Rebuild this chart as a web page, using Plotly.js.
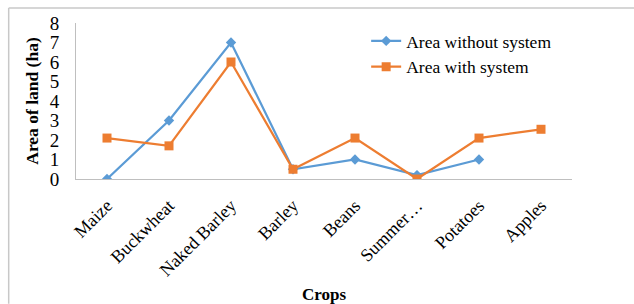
<!DOCTYPE html>
<html>
<head>
<meta charset="utf-8">
<script src="https://cdn.plot.ly/plotly-3.0.1.min.js"></script>
<style>
html,body{margin:0;padding:0;background:#fff;}
#chart{width:634px;height:304px;}
</style>
</head>
<body>
<div id="chart"></div>
<script>
const crops = ["Maize", "Buckwheat", "Naked Barley", "Barley", "Beans", "Summer…", "Potatoes", "Apples"];
const areaWithout = [0, 3, 7, 0.5, 1, 0.2, 1, null];
const areaWith = [2.1, 1.7, 6, 0.5, 2.1, 0, 2.1, 2.55];
const yTicks = [0, 1, 2, 3, 4, 5, 6, 7, 8];

const serif = "Liberation Serif, Times New Roman, serif";

const traces = [
  {
    x: crops, y: areaWithout, name: "Area without system",
    type: "scatter", mode: "lines+markers",
    line: {color: "#5B9BD5", width: 2.25},
    marker: {symbol: "diamond", size: 8, color: "#5B9BD5"},
    connectgaps: false
  },
  {
    x: crops, y: areaWith, name: "Area with system",
    type: "scatter", mode: "lines+markers",
    line: {color: "#ED7D31", width: 2.25},
    marker: {symbol: "square", size: 9, color: "#ED7D31"}
  }
];

const layout = {
  width: 634, height: 304,
  margin: {l: 76, r: 62, t: 23, b: 125},
  paper_bgcolor: "#fff", plot_bgcolor: "#fff",
  font: {family: serif, size: 18, color: "#000"},
  showlegend: true,
  legend: {
    x: 0.585, y: 1.0, xanchor: "left", yanchor: "top",
    bgcolor: "rgba(0,0,0,0)", font: {family: serif, size: 17.5},
    tracegroupgap: 11, itemwidth: 30
  },
  xaxis: {
    type: "category", range: [-0.5, 7.5],
    showline: true, linecolor: "#bfbfbf", linewidth: 1,
    showgrid: false, zeroline: false, ticks: "",
    ticklabelstandoff: 8,
    tickangle: -45, tickfont: {family: serif, size: 18},
    title: {text: "<b>Crops</b>", font: {family: serif, size: 17}, standoff: 12}
  },
  yaxis: {
    range: [0, 8], tickvals: yTicks,
    showline: true, linecolor: "#bfbfbf", linewidth: 1,
    showgrid: false, zeroline: false,
    ticks: "outside", ticklen: 12, tickcolor: "rgba(0,0,0,0)",
    tickfont: {family: serif, size: 19},
    title: {text: "<b>Area of land (ha)</b>", font: {family: serif, size: 17.5}, standoff: 6}
  },
  shapes: [
    {type: "line", xref: "paper", yref: "paper", x0: -0.1357, x1: 1.13, y0: 1.0955, y1: 1.0955, line: {color: "#c8c8c8", width: 1.5}},
    {type: "line", xref: "paper", yref: "paper", x0: -0.1357, x1: -0.1357, y0: 1.0955, y1: -0.8, line: {color: "#c8c8c8", width: 1.5}}
  ]
};

Plotly.newPlot("chart", traces, layout, {displayModeBar: false, staticPlot: true});
</script>
</body>
</html>
